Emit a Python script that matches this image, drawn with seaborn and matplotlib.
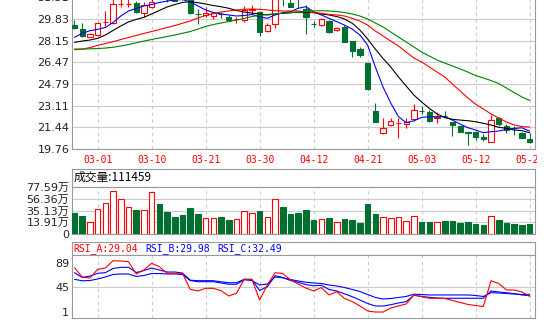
import numpy as np
import pandas as pd
import seaborn as sns
import matplotlib
matplotlib.use('Agg')
import matplotlib.pyplot as plt
from matplotlib.transforms import Bbox

# ---- data ----
dates = ['03-01', '03-10', '03-21', '03-30', '04-12', '04-21', '05-03', '05-12', '05-23']
date_pos = [3, 10, 17, 24, 31, 38, 45, 52, 59]

opens = [29.36, 29.03, 28.46, 28.57, 29.57, 29.50, 30.97, 30.97, 31.04, 30.27,
         30.73, 31.70, 31.75, 31.50, 31.60, 31.40, 30.22, 30.11, 30.08, 30.22,
         29.96, 29.80, 29.75, 30.56, 30.39, 28.90, 29.42, 31.80, 31.09, 31.60,
         30.58, 29.44, 29.36, 29.70, 28.98, 29.23, 28.15, 27.48, 26.44, 22.70,
         20.97, 21.59, 21.77, 21.67, 22.06, 22.72, 22.60, 22.18, 22.33, 21.83,
         21.54, 21.08, 21.08, 20.66, 20.32, 22.14, 21.54, 21.38, 20.97, 20.56]
highs = [29.75, 29.50, 28.72, 29.62, 30.45, 31.35, 31.50, 31.45, 31.22, 31.17,
         31.45, 31.90, 31.95, 31.70, 31.75, 31.55, 30.58, 30.78, 30.39, 30.39,
         30.14, 30.01, 30.84, 30.91, 30.45, 29.50, 31.60, 32.00, 31.35, 31.80,
         30.91, 29.70, 29.88, 29.75, 29.23, 29.36, 28.15, 27.64, 26.44, 23.30,
         22.14, 22.14, 22.14, 22.14, 23.24, 23.09, 22.78, 22.65, 22.70, 21.83,
         21.58, 21.08, 21.18, 20.92, 22.39, 22.26, 21.67, 21.54, 21.10, 20.97]
lows = [29.09, 28.41, 28.41, 28.53, 29.29, 29.44, 30.73, 30.78, 30.32, 30.01,
        30.66, 31.35, 31.17, 31.20, 31.32, 30.19, 29.44, 30.01, 29.80, 29.88,
        29.70, 29.50, 29.62, 30.22, 28.53, 28.84, 29.15, 30.84, 30.78, 30.66,
        28.64, 29.23, 29.31, 28.72, 28.92, 28.07, 26.86, 26.91, 24.33, 21.87,
        20.92, 21.54, 20.59, 21.41, 21.95, 22.47, 21.87, 21.80, 22.14, 20.79,
        21.04, 20.09, 20.46, 20.35, 20.32, 21.54, 21.02, 20.84, 20.63, 20.25]
closes = [29.15, 28.51, 28.67, 29.50, 29.62, 30.99, 31.01, 31.00, 30.39, 30.91,
          31.17, 31.50, 31.45, 31.22, 31.40, 30.27, 30.19, 30.32, 30.27, 30.19,
          29.75, 29.82, 30.53, 30.60, 28.84, 29.36, 31.45, 31.50, 30.78, 31.40,
          30.01, 29.42, 29.83, 28.80, 29.15, 28.07, 27.37, 27.04, 24.38, 21.87,
          21.39, 21.93, 21.79, 21.87, 22.78, 22.70, 21.95, 22.20, 22.31, 21.62,
          21.08, 20.97, 20.66, 20.51, 22.00, 21.69, 21.23, 21.36, 20.63, 20.30]

ma5 = [28.41, 28.72, 28.92, 29.03, 29.17, 29.56, 30.06, 30.45, 30.64, 30.84,
       30.95, 31.11, 31.22, 31.30, 31.34, 31.15, 30.84, 30.53, 30.33, 30.22,
       30.14, 30.06, 30.10, 30.18, 30.01, 29.88, 30.14, 30.32, 30.39, 30.66,
       30.78, 30.39, 30.14, 29.88, 29.62, 29.36, 29.05, 28.59, 27.81, 26.11,
       24.56, 23.32, 22.26, 21.80, 21.95, 22.21, 22.26, 22.26, 22.26, 22.00,
       21.69, 21.41, 21.23, 21.02, 21.10, 21.15, 21.28, 21.36, 21.40, 21.15]
ma10 = [28.02, 28.12, 28.20, 28.33, 28.59, 28.94, 29.29, 29.60, 29.80, 29.96,
        30.22, 30.49, 30.76, 30.95, 31.11, 31.18, 31.09, 30.99, 30.87, 30.78,
        30.66, 30.49, 30.37, 30.29, 30.22, 30.14, 30.22, 30.27, 30.32, 30.35,
        30.35, 30.32, 30.22, 30.14, 30.02, 29.83, 29.50, 28.98, 28.28, 27.50,
        26.77, 26.11, 25.34, 24.64, 23.94, 23.40, 22.91, 22.47, 22.20, 22.06,
        22.00, 21.95, 21.87, 21.75, 21.62, 21.44, 21.36, 21.23, 21.18, 21.02]
ma20 = [27.45, 27.50, 27.61, 27.78, 27.93, 28.07, 28.24, 28.40, 28.55, 28.71,
        28.86, 29.01, 29.17, 29.32, 29.50, 29.67, 29.91, 30.10, 30.25, 30.37,
        30.45, 30.53, 30.58, 30.60, 30.58, 30.53, 30.47, 30.45, 30.45, 30.45,
        30.39, 30.35, 30.27, 30.19, 30.14, 30.06, 29.88, 29.67, 29.36, 28.90,
        28.51, 28.12, 27.74, 27.27, 26.81, 26.50, 26.11, 25.72, 25.34, 24.79,
        24.25, 23.71, 23.24, 22.86, 22.47, 22.16, 21.85, 21.62, 21.50, 21.46]
ma30 = [27.50, 27.50, 27.52, 27.54, 27.58, 27.64, 27.74, 27.85, 27.98, 28.12,
        28.24, 28.36, 28.47, 28.59, 28.72, 28.86, 29.05, 29.25, 29.40, 29.52,
        29.63, 29.75, 29.87, 30.02, 30.11, 30.18, 30.23, 30.27, 30.32, 30.37,
        30.42, 30.46, 30.47, 30.45, 30.41, 30.33, 30.22, 30.06, 29.83, 29.52,
        29.21, 28.82, 28.43, 28.05, 27.66, 27.27, 26.96, 26.65, 26.42, 26.19,
        25.96, 25.72, 25.45, 25.26, 25.06, 24.83, 24.48, 24.13, 23.79, 23.52]

# volume in 万 (10k)
volumes = [31.5, 25.5, 14.2, 37.6, 48.3, 69.9, 55.5, 41.2, 36.3, 35.8,
           68.1, 47.1, 32.7, 23.8, 27.3, 39.9, 29.7, 21.4, 21.4, 23.8,
           18.4, 19.6, 34.0, 30.4, 34.5, 23.2, 55.5, 41.7, 29.1, 30.9,
           36.3, 18.4, 19.6, 22.0, 14.2, 20.2, 18.4, 13.0, 47.1, 29.1,
           23.2, 21.4, 23.2, 16.0, 25.0, 14.8, 14.8, 14.2, 16.6, 16.6,
           13.0, 14.8, 11.2, 9.4, 25.0, 18.4, 13.0, 11.2, 9.4, 11.15]
vol_ticks = [-7.31, 13.91, 35.13, 56.36, 77.59]
vol_labels = ['0', '13.91万', '35.13万', '56.36万', '77.59万']

rsi_a = [80.0, 63.4, 61.6, 77.1, 79.5, 92.5, 92.0, 90.7, 68.8, 75.9,
         87.9, 81.8, 70.0, 70.0, 70.0, 41.4, 38.4, 43.2, 43.2, 38.9,
         29.5, 34.3, 59.3, 59.3, 22.3, 49.1, 71.1, 69.6, 58.0, 50.9,
         43.7, 38.4, 44.6, 31.3, 37.1, 25.0, 19.6, 11.6, 2.7, 0.8,
         0.8, 8.0, 11.6, 15.2, 31.3, 28.2, 25.4, 25.4, 25.0, 21.4,
         17.9, 14.3, 12.5, 10.7, 56.8, 51.8, 40.2, 40.2, 36.6, 29.04]
rsi_b = [71.1, 62.5, 65.2, 70.0, 71.1, 78.6, 80.7, 80.7, 71.4, 75.0,
         79.5, 75.9, 72.3, 72.3, 70.5, 57.7, 56.8, 56.8, 56.8, 54.8,
         53.2, 53.2, 59.3, 58.9, 39.3, 46.1, 65.7, 62.5, 57.1, 53.9,
         50.0, 47.7, 48.6, 41.1, 38.4, 33.4, 28.2, 22.3, 16.1, 11.6,
         11.6, 13.9, 17.0, 19.3, 30.7, 28.6, 27.1, 25.9, 25.4, 25.4,
         25.4, 25.4, 25.4, 25.4, 38.4, 36.6, 35.2, 33.6, 31.3, 29.98]
rsi_c = [59.3, 56.6, 57.1, 59.8, 63.4, 67.9, 68.8, 68.8, 64.3, 66.1,
         69.6, 69.6, 68.8, 68.8, 67.9, 57.1, 55.0, 55.0, 55.0, 52.7,
         50.4, 50.4, 58.4, 57.1, 49.1, 50.9, 63.4, 62.0, 58.9, 56.3,
         54.1, 52.7, 51.8, 49.1, 47.3, 44.6, 41.1, 37.5, 32.1, 26.8,
         24.1, 25.0, 26.8, 28.6, 32.7, 32.1, 31.3, 31.3, 31.3, 31.3,
         31.3, 31.3, 30.4, 28.6, 35.4, 34.8, 33.9, 33.0, 32.1, 32.49]
rsi_ticks = [1, 45, 89]

price_ticks = [19.76, 21.44, 23.11, 24.79, 26.47, 28.15, 29.83, 31.51]

RED = '#ff0000'
GREEN = '#006f30'
GRID = '#cccccc'
SPINE = '#999999'

sns.set_style('white')
plt.rcParams['font.family'] = ['DejaVu Sans', 'Noto Sans CJK SC']

W, H = 554, 327
fig = plt.figure(figsize=(W / 100, H / 100), dpi=100)


def box(left, top, right, bottom):
    return [left / W, 1 - bottom / H, (right - left) / W, (bottom - top) / H]


ax_p = fig.add_axes(box(72, -12, 535, 149))
ax_vh = fig.add_axes(box(72, 168.5, 535, 186.7))
ax_v = fig.add_axes(box(72, 186.7, 535, 234.3))
ax_rh = fig.add_axes(box(72, 241.7, 535, 255))
ax_r = fig.add_axes(box(72, 255, 535, 318.3))

idx = np.arange(len(closes))
o = np.array(opens)
c = np.array(closes)
up = c >= o
cols = np.where(up, RED, GREEN)
xlim = (-0.324, 59.7)
dash = (0, (3, 3))

# ---- price panel ----
ax_p.vlines(idx, lows, highs, colors=cols, linewidth=0.8, zorder=3)
ax_p.bar(idx, np.abs(c - o), bottom=np.minimum(o, c), width=0.68,
         color=np.where(up, 'white', GREEN), edgecolor=cols, linewidth=0.8, zorder=4)
for vals, colr in [(ma5, '#0000ff'), (ma10, '#000000'), (ma20, RED), (ma30, '#008000')]:
    sns.lineplot(x=idx, y=vals, ax=ax_p, color=colr, linewidth=0.8, zorder=5)
ax_p.set_xlim(*xlim)
ax_p.set_ylim(19.76, 32.23)
ax_p.set_yticks(price_ticks)
ax_p.set_yticklabels(['%.2f' % t for t in price_ticks])
ax_p.set_xticks(date_pos)
ax_p.tick_params(axis='x', labelbottom=False, length=0)
ax_p.yaxis.grid(True, color=GRID, linewidth=0.8)
ax_p.xaxis.grid(True, color=GRID, linewidth=0.8, linestyle=dash)
ax_p.spines['top'].set_visible(False)

clip = Bbox.from_extents(0, 0, 537, H)
for d, pos in zip(dates, date_pos):
    t = ax_p.text(pos, -0.068, d, transform=ax_p.get_xaxis_transform(),
                  ha='center', va='center', color=RED, fontsize=7,
                  family='DejaVu Sans Mono', clip_on=True)
    t.set_clip_box(clip)

# ---- volume panel ----
vol_df = pd.DataFrame({'day': idx, 'vol': np.array(volumes) - vol_ticks[0]})
sns.barplot(data=vol_df, x='day', y='vol', ax=ax_v, width=0.72, errorbar=None,
            bottom=vol_ticks[0], zorder=3)
for patch, u in zip(ax_v.patches, up):
    patch.set_facecolor('white' if u else GREEN)
    patch.set_edgecolor(RED if u else GREEN)
    patch.set_linewidth(0.8)
ax_v.set_xlabel('')
ax_v.set_ylabel('')
ax_v.set_xlim(*xlim)
ax_v.set_ylim(vol_ticks[0], vol_ticks[-1])
ax_v.set_yticks(vol_ticks)
ax_v.set_yticklabels(vol_labels)
ax_v.set_xticks(date_pos)
ax_v.tick_params(axis='x', labelbottom=False, length=0)
ax_v.yaxis.grid(True, color=GRID, linewidth=0.8)
ax_v.xaxis.grid(True, color=GRID, linewidth=0.8, linestyle=dash)

ax_vh.text(0.003, 0.5, '成交量:111459', transform=ax_vh.transAxes, ha='left',
           va='center', fontsize=8.5, color='black', family=['Noto Sans CJK SC', 'DejaVu Sans'])

# ---- RSI panel ----
sns.lineplot(x=idx, y=rsi_c, ax=ax_r, color='#0000ff', linewidth=0.8, zorder=4)
sns.lineplot(x=idx, y=rsi_b, ax=ax_r, color='#0000ff', linewidth=0.8, zorder=4)
sns.lineplot(x=idx, y=rsi_a, ax=ax_r, color=RED, linewidth=0.8, zorder=5)
ax_r.axhline(45, color=GRID, linewidth=0.8, zorder=1)
ax_r.set_xlim(*xlim)
ax_r.set_ylim(-10.4, 102.7)
ax_r.set_yticks(rsi_ticks)
ax_r.set_yticklabels([str(t) for t in rsi_ticks])
ax_r.set_xticks(date_pos)
ax_r.tick_params(axis='x', labelbottom=False, length=0)
ax_r.xaxis.grid(True, color=GRID, linewidth=0.8, linestyle=dash)

for txt, xpx, colr in [('RSI_A:29.04', 73, RED), ('RSI_B:29.98', 145, '#0000ff'),
                       ('RSI_C:32.49', 217, '#0000ff')]:
    ax_rh.text((xpx - 72) / 463, 0.5, txt, transform=ax_rh.transAxes, ha='left',
               va='center', fontsize=7, color=colr, family='DejaVu Sans Mono')

for a in [ax_p, ax_v, ax_r]:
    a.tick_params(axis='y', length=0, pad=2, labelsize=8, labelcolor='#222222')
    a.set_axisbelow(True)
for a in [ax_vh, ax_rh]:
    a.set_xticks([])
    a.set_yticks([])
for a in [ax_p, ax_vh, ax_v, ax_rh, ax_r]:
    for s in a.spines.values():
        s.set_color(SPINE)
        s.set_linewidth(0.8)

fig.savefig('out.png', dpi=100)
